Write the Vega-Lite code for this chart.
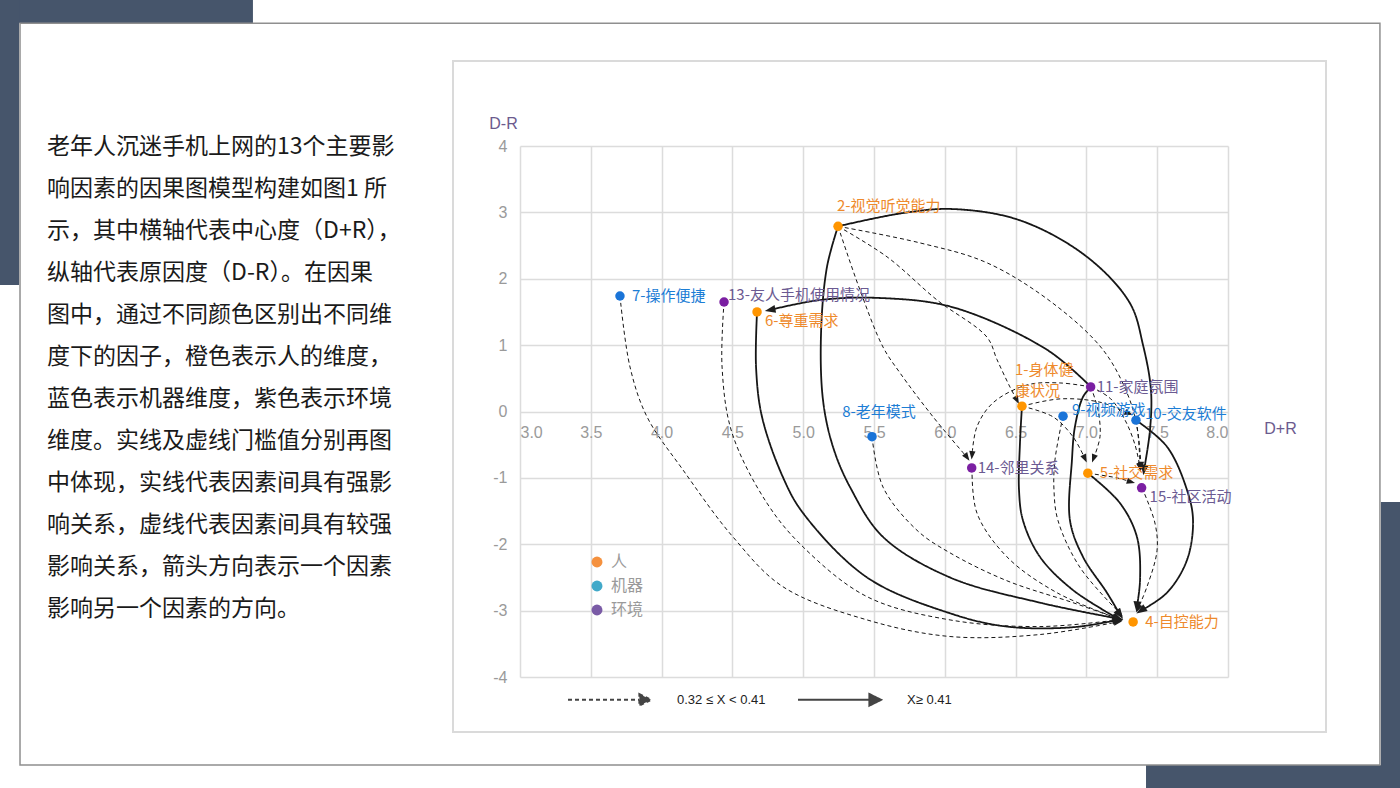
{
  "$schema": "https://vega.github.io/schema/vega-lite/v6.json",
  "width": 708,
  "height": 531,
  "autosize": {"type": "none"},
  "padding": {"left": 520, "top": 146, "right": 172, "bottom": 111},
  "background": "white",
  "config": {"view": {"stroke": null}},
  "resolve": {"scale": {"fill": "independent"}},
  "datasets": {
    "nodes": [
      {"id": "1", "label": "1-身体健\n康状况", "dim": "人", "x": 6.545, "y": 0.08},
      {"id": "2", "label": "2-视觉听觉能力", "dim": "人", "x": 5.246, "y": 2.79},
      {"id": "4", "label": "4-自控能力", "dim": "人", "x": 7.33, "y": -3.17},
      {"id": "5", "label": "5-社交需求", "dim": "人", "x": 7.01, "y": -0.93},
      {"id": "6", "label": "6-尊重需求", "dim": "人", "x": 4.674, "y": 1.5},
      {"id": "7", "label": "7-操作便捷", "dim": "机器", "x": 3.706, "y": 1.74},
      {"id": "8", "label": "8-老年模式", "dim": "机器", "x": 5.486, "y": -0.38},
      {"id": "9", "label": "9-视频游戏", "dim": "机器", "x": 6.835, "y": -0.07},
      {"id": "10", "label": "10-交友软件", "dim": "机器", "x": 7.35, "y": -0.13},
      {"id": "11", "label": "11-家庭氛围", "dim": "环境", "x": 7.03, "y": 0.37},
      {"id": "13", "label": "13-友人手机使用情况", "dim": "环境", "x": 4.441, "y": 1.65},
      {"id": "14", "label": "14-邻里关系", "dim": "环境", "x": 6.19, "y": -0.85},
      {"id": "15", "label": "15-社区活动", "dim": "环境", "x": 7.39, "y": -1.15}
    ],
    "edges": [
      {"edge": "11-6", "strength": "强", "seq": 0, "x": 7.032, "y": 0.37},
      {"edge": "11-6", "strength": "强", "seq": 1, "x": 6.722, "y": 0.93},
      {"edge": "11-6", "strength": "强", "seq": 2, "x": 6.058, "y": 1.57},
      {"edge": "11-6", "strength": "强", "seq": 3, "x": 5.542, "y": 1.71},
      {"edge": "11-6", "strength": "强", "seq": 4, "x": 5.119, "y": 1.68},
      {"edge": "11-6", "strength": "强", "seq": 5, "x": 4.766, "y": 1.53, "angle": 259},
      {"edge": "2-15s", "strength": "强", "seq": 0, "x": 5.246, "y": 2.79},
      {"edge": "2-15s", "strength": "强", "seq": 1, "x": 5.705, "y": 2.99},
      {"edge": "2-15s", "strength": "强", "seq": 2, "x": 6.058, "y": 3.05},
      {"edge": "2-15s", "strength": "强", "seq": 3, "x": 6.531, "y": 2.88},
      {"edge": "2-15s", "strength": "强", "seq": 4, "x": 7.004, "y": 2.33},
      {"edge": "2-15s", "strength": "强", "seq": 5, "x": 7.308, "y": 1.63},
      {"edge": "2-15s", "strength": "强", "seq": 6, "x": 7.4, "y": 1.0},
      {"edge": "2-15s", "strength": "强", "seq": 7, "x": 7.456, "y": 0.32},
      {"edge": "2-15s", "strength": "强", "seq": 8, "x": 7.449, "y": -0.28},
      {"edge": "2-15s", "strength": "强", "seq": 9, "x": 7.407, "y": -0.88, "angle": 188},
      {"edge": "2-4", "strength": "强", "seq": 0, "x": 5.246, "y": 2.79},
      {"edge": "2-4", "strength": "强", "seq": 1, "x": 5.168, "y": 2.18},
      {"edge": "2-4", "strength": "强", "seq": 2, "x": 5.126, "y": 1.18},
      {"edge": "2-4", "strength": "强", "seq": 3, "x": 5.14, "y": 0.17},
      {"edge": "2-4", "strength": "强", "seq": 4, "x": 5.21, "y": -0.53},
      {"edge": "2-4", "strength": "强", "seq": 5, "x": 5.331, "y": -1.14},
      {"edge": "2-4", "strength": "强", "seq": 6, "x": 5.564, "y": -1.89},
      {"edge": "2-4", "strength": "强", "seq": 7, "x": 6.037, "y": -2.5},
      {"edge": "2-4", "strength": "强", "seq": 8, "x": 6.672, "y": -2.88},
      {"edge": "2-4", "strength": "强", "seq": 9, "x": 7.223, "y": -3.12, "angle": 100},
      {"edge": "6-4", "strength": "强", "seq": 0, "x": 4.674, "y": 1.5},
      {"edge": "6-4", "strength": "强", "seq": 1, "x": 4.667, "y": 0.67},
      {"edge": "6-4", "strength": "强", "seq": 2, "x": 4.709, "y": -0.08},
      {"edge": "6-4", "strength": "强", "seq": 3, "x": 4.857, "y": -0.99},
      {"edge": "6-4", "strength": "强", "seq": 4, "x": 4.999, "y": -1.53},
      {"edge": "6-4", "strength": "强", "seq": 5, "x": 5.451, "y": -2.5},
      {"edge": "6-4", "strength": "强", "seq": 6, "x": 6.037, "y": -3.04},
      {"edge": "6-4", "strength": "强", "seq": 7, "x": 6.439, "y": -3.24},
      {"edge": "6-4", "strength": "强", "seq": 8, "x": 6.905, "y": -3.25},
      {"edge": "6-4", "strength": "强", "seq": 9, "x": 7.223, "y": -3.14, "angle": 82},
      {"edge": "1-4", "strength": "强", "seq": 0, "x": 6.545, "y": 0.08},
      {"edge": "1-4", "strength": "强", "seq": 1, "x": 6.531, "y": -0.47},
      {"edge": "1-4", "strength": "强", "seq": 2, "x": 6.524, "y": -1.18},
      {"edge": "1-4", "strength": "强", "seq": 3, "x": 6.552, "y": -1.64},
      {"edge": "1-4", "strength": "强", "seq": 4, "x": 6.672, "y": -2.19},
      {"edge": "1-4", "strength": "强", "seq": 5, "x": 6.905, "y": -2.69},
      {"edge": "1-4", "strength": "强", "seq": 6, "x": 7.223, "y": -3.12, "angle": 118},
      {"edge": "11-4", "strength": "强", "seq": 0, "x": 7.032, "y": 0.37},
      {"edge": "11-4", "strength": "强", "seq": 1, "x": 6.976, "y": 0.22},
      {"edge": "11-4", "strength": "强", "seq": 2, "x": 6.919, "y": -0.23},
      {"edge": "11-4", "strength": "强", "seq": 3, "x": 6.898, "y": -0.73},
      {"edge": "11-4", "strength": "强", "seq": 4, "x": 6.884, "y": -1.64},
      {"edge": "11-4", "strength": "强", "seq": 5, "x": 6.976, "y": -2.19},
      {"edge": "11-4", "strength": "强", "seq": 6, "x": 7.145, "y": -2.73},
      {"edge": "11-4", "strength": "强", "seq": 7, "x": 7.237, "y": -3.06, "angle": 145},
      {"edge": "5-4", "strength": "强", "seq": 0, "x": 7.011, "y": -0.93},
      {"edge": "5-4", "strength": "强", "seq": 1, "x": 7.237, "y": -1.38},
      {"edge": "5-4", "strength": "强", "seq": 2, "x": 7.357, "y": -1.89},
      {"edge": "5-4", "strength": "强", "seq": 3, "x": 7.379, "y": -2.53},
      {"edge": "5-4", "strength": "强", "seq": 4, "x": 7.357, "y": -2.94, "angle": 186},
      {"edge": "10-4", "strength": "强", "seq": 0, "x": 7.35, "y": -0.13},
      {"edge": "10-4", "strength": "强", "seq": 1, "x": 7.569, "y": -0.53},
      {"edge": "10-4", "strength": "强", "seq": 2, "x": 7.71, "y": -1.18},
      {"edge": "10-4", "strength": "强", "seq": 3, "x": 7.753, "y": -1.64},
      {"edge": "10-4", "strength": "强", "seq": 4, "x": 7.71, "y": -2.24},
      {"edge": "10-4", "strength": "强", "seq": 5, "x": 7.569, "y": -2.73},
      {"edge": "10-4", "strength": "强", "seq": 6, "x": 7.385, "y": -3.0, "angle": 237},
      {"edge": "7-4", "strength": "较强", "seq": 0, "x": 3.706, "y": 1.74},
      {"edge": "7-4", "strength": "较强", "seq": 1, "x": 3.777, "y": 0.67},
      {"edge": "7-4", "strength": "较强", "seq": 2, "x": 3.897, "y": -0.08},
      {"edge": "7-4", "strength": "较强", "seq": 3, "x": 4.151, "y": -0.88},
      {"edge": "7-4", "strength": "较强", "seq": 4, "x": 4.504, "y": -1.89},
      {"edge": "7-4", "strength": "较强", "seq": 5, "x": 4.857, "y": -2.64},
      {"edge": "7-4", "strength": "较强", "seq": 6, "x": 5.451, "y": -3.14},
      {"edge": "7-4", "strength": "较强", "seq": 7, "x": 6.037, "y": -3.39},
      {"edge": "7-4", "strength": "较强", "seq": 8, "x": 6.672, "y": -3.36},
      {"edge": "7-4", "strength": "较强", "seq": 9, "x": 7.223, "y": -3.17, "angle": 80},
      {"edge": "13-4", "strength": "较强", "seq": 0, "x": 4.441, "y": 1.65},
      {"edge": "13-4", "strength": "较强", "seq": 1, "x": 4.427, "y": 0.67},
      {"edge": "13-4", "strength": "较强", "seq": 2, "x": 4.497, "y": -0.32},
      {"edge": "13-4", "strength": "较强", "seq": 3, "x": 4.744, "y": -1.38},
      {"edge": "13-4", "strength": "较强", "seq": 4, "x": 4.999, "y": -2.04},
      {"edge": "13-4", "strength": "较强", "seq": 5, "x": 5.451, "y": -2.79},
      {"edge": "13-4", "strength": "较强", "seq": 6, "x": 6.037, "y": -3.14},
      {"edge": "13-4", "strength": "较强", "seq": 7, "x": 6.672, "y": -3.24},
      {"edge": "13-4", "strength": "较强", "seq": 8, "x": 7.223, "y": -3.14, "angle": 85},
      {"edge": "8-4", "strength": "较强", "seq": 0, "x": 5.486, "y": -0.38},
      {"edge": "8-4", "strength": "较强", "seq": 1, "x": 5.564, "y": -1.14},
      {"edge": "8-4", "strength": "较强", "seq": 2, "x": 5.804, "y": -1.79},
      {"edge": "8-4", "strength": "较强", "seq": 3, "x": 6.037, "y": -2.13},
      {"edge": "8-4", "strength": "较强", "seq": 4, "x": 6.439, "y": -2.55},
      {"edge": "8-4", "strength": "较强", "seq": 5, "x": 6.905, "y": -2.88},
      {"edge": "8-4", "strength": "较强", "seq": 6, "x": 7.223, "y": -3.12, "angle": 108},
      {"edge": "14-4", "strength": "较强", "seq": 0, "x": 6.192, "y": -0.85},
      {"edge": "14-4", "strength": "较强", "seq": 1, "x": 6.227, "y": -1.53},
      {"edge": "14-4", "strength": "较强", "seq": 2, "x": 6.439, "y": -2.19},
      {"edge": "14-4", "strength": "较强", "seq": 3, "x": 6.792, "y": -2.73},
      {"edge": "14-4", "strength": "较强", "seq": 4, "x": 7.223, "y": -3.12, "angle": 113},
      {"edge": "9-4", "strength": "较强", "seq": 0, "x": 6.835, "y": -0.07},
      {"edge": "9-4", "strength": "较强", "seq": 1, "x": 6.778, "y": -0.73},
      {"edge": "9-4", "strength": "较强", "seq": 2, "x": 6.771, "y": -1.18},
      {"edge": "9-4", "strength": "较强", "seq": 3, "x": 6.799, "y": -1.64},
      {"edge": "9-4", "strength": "较强", "seq": 4, "x": 6.955, "y": -2.35},
      {"edge": "9-4", "strength": "较强", "seq": 5, "x": 7.237, "y": -3.04, "angle": 139},
      {"edge": "15-4", "strength": "较强", "seq": 0, "x": 7.393, "y": -1.15},
      {"edge": "15-4", "strength": "较强", "seq": 1, "x": 7.484, "y": -1.68},
      {"edge": "15-4", "strength": "较强", "seq": 2, "x": 7.499, "y": -2.09},
      {"edge": "15-4", "strength": "较强", "seq": 3, "x": 7.428, "y": -2.64},
      {"edge": "15-4", "strength": "较强", "seq": 4, "x": 7.364, "y": -2.97, "angle": 202},
      {"edge": "2-15d", "strength": "较强", "seq": 0, "x": 5.246, "y": 2.79},
      {"edge": "2-15d", "strength": "较强", "seq": 1, "x": 5.825, "y": 2.54},
      {"edge": "2-15d", "strength": "较强", "seq": 2, "x": 6.298, "y": 2.24},
      {"edge": "2-15d", "strength": "较强", "seq": 3, "x": 6.764, "y": 1.63},
      {"edge": "2-15d", "strength": "较强", "seq": 4, "x": 7.117, "y": 0.93},
      {"edge": "2-15d", "strength": "较强", "seq": 5, "x": 7.287, "y": 0.28},
      {"edge": "2-15d", "strength": "较强", "seq": 6, "x": 7.357, "y": -0.23},
      {"edge": "2-15d", "strength": "较强", "seq": 7, "x": 7.379, "y": -0.84, "angle": 176},
      {"edge": "2-1", "strength": "较强", "seq": 0, "x": 5.246, "y": 2.79},
      {"edge": "2-1", "strength": "较强", "seq": 1, "x": 5.592, "y": 2.33},
      {"edge": "2-1", "strength": "较强", "seq": 2, "x": 5.945, "y": 1.68},
      {"edge": "2-1", "strength": "较强", "seq": 3, "x": 6.298, "y": 1.12},
      {"edge": "2-1", "strength": "较强", "seq": 4, "x": 6.369, "y": 0.78},
      {"edge": "2-1", "strength": "较强", "seq": 5, "x": 6.46, "y": 0.37},
      {"edge": "2-1", "strength": "较强", "seq": 6, "x": 6.51, "y": 0.17, "angle": 152},
      {"edge": "2-14", "strength": "较强", "seq": 0, "x": 5.246, "y": 2.79},
      {"edge": "2-14", "strength": "较强", "seq": 1, "x": 5.401, "y": 1.83},
      {"edge": "2-14", "strength": "较强", "seq": 2, "x": 5.564, "y": 0.97},
      {"edge": "2-14", "strength": "较强", "seq": 3, "x": 5.684, "y": 0.58},
      {"edge": "2-14", "strength": "较强", "seq": 4, "x": 5.917, "y": -0.08},
      {"edge": "2-14", "strength": "较强", "seq": 5, "x": 6.157, "y": -0.69, "angle": 145},
      {"edge": "11-14", "strength": "较强", "seq": 0, "x": 7.032, "y": 0.37},
      {"edge": "11-14", "strength": "较强", "seq": 1, "x": 6.814, "y": 0.43},
      {"edge": "11-14", "strength": "较强", "seq": 2, "x": 6.581, "y": 0.4},
      {"edge": "11-14", "strength": "较强", "seq": 3, "x": 6.34, "y": 0.13},
      {"edge": "11-14", "strength": "较强", "seq": 4, "x": 6.227, "y": -0.23},
      {"edge": "11-14", "strength": "较强", "seq": 5, "x": 6.192, "y": -0.66, "angle": 185},
      {"edge": "1-5", "strength": "较强", "seq": 0, "x": 6.545, "y": 0.08},
      {"edge": "1-5", "strength": "较强", "seq": 1, "x": 6.764, "y": -0.08},
      {"edge": "1-5", "strength": "较强", "seq": 2, "x": 6.905, "y": -0.38},
      {"edge": "1-5", "strength": "较强", "seq": 3, "x": 6.99, "y": -0.71, "angle": 155},
      {"edge": "11-5", "strength": "较强", "seq": 0, "x": 7.032, "y": 0.37},
      {"edge": "11-5", "strength": "较强", "seq": 1, "x": 7.082, "y": 0.02},
      {"edge": "11-5", "strength": "较强", "seq": 2, "x": 7.096, "y": -0.38},
      {"edge": "11-5", "strength": "较强", "seq": 3, "x": 7.05, "y": -0.71, "angle": 200},
      {"edge": "1-10", "strength": "较强", "seq": 0, "x": 6.545, "y": 0.08},
      {"edge": "1-10", "strength": "较强", "seq": 1, "x": 6.814, "y": 0.19},
      {"edge": "1-10", "strength": "较强", "seq": 2, "x": 7.096, "y": 0.14},
      {"edge": "1-10", "strength": "较强", "seq": 3, "x": 7.3, "y": -0.03, "angle": 112},
      {"edge": "11-15", "strength": "较强", "seq": 0, "x": 7.032, "y": 0.37},
      {"edge": "11-15", "strength": "较强", "seq": 1, "x": 7.167, "y": 0.2},
      {"edge": "11-15", "strength": "较强", "seq": 2, "x": 7.273, "y": -0.13},
      {"edge": "11-15", "strength": "较强", "seq": 3, "x": 7.343, "y": -0.5},
      {"edge": "11-15", "strength": "较强", "seq": 4, "x": 7.379, "y": -0.84, "angle": 170},
      {"edge": "10-15", "strength": "较强", "seq": 0, "x": 7.35, "y": -0.13},
      {"edge": "10-15", "strength": "较强", "seq": 1, "x": 7.371, "y": -0.43},
      {"edge": "10-15", "strength": "较强", "seq": 2, "x": 7.386, "y": -0.82, "angle": 178},
      {"edge": "5-15", "strength": "较强", "seq": 0, "x": 7.011, "y": -0.93},
      {"edge": "5-15", "strength": "较强", "seq": 1, "x": 7.216, "y": -1.0},
      {"edge": "5-15", "strength": "较强", "seq": 2, "x": 7.315, "y": -1.06, "angle": 106}
    ]
  },
  "layer": [
    {
      "data": {"name": "edges"},
      "mark": {"type": "line", "interpolate": "catmull-rom", "color": "#161616"},
      "encoding": {
        "x": {"field": "x", "type": "quantitative", "scale": {"domain": [3, 8], "nice": false, "zero": false},
          "axis": {"orient": "bottom", "offset": -265.5, "values": [3, 3.5, 4, 4.5, 5, 5.5, 6, 6.5, 7, 7.5, 8], "format": ".1f",
            "domain": false, "ticks": false, "grid": true, "gridColor": "#dcdcdc", "gridWidth": 1.5,
            "labelFont": "Liberation Sans", "labelFontSize": 16, "labelColor": "#9a9a9a", "labelPadding": 13,
            "title": "D+R", "titleFont": "Liberation Sans", "titleFontSize": 16, "titleFontWeight": "normal", "titleColor": "#6b5a8e",
            "titleX": 760, "titleY": 17, "titleAlign": "center", "titleBaseline": "middle", "titleAngle": 0}},
        "y": {"field": "y", "type": "quantitative", "scale": {"domain": [-4, 4], "nice": false, "zero": false},
          "axis": {"orient": "left", "values": [-4, -3, -2, -1, 0, 1, 2, 3, 4], "labelExpr": "'' + datum.value",
            "domain": false, "ticks": false, "grid": true, "gridColor": "#dcdcdc", "gridWidth": 1.5,
            "labelFont": "Liberation Sans", "labelFontSize": 16, "labelColor": "#9a9a9a", "labelPadding": 13,
            "title": "D-R", "titleFont": "Liberation Sans", "titleFontSize": 16, "titleFontWeight": "normal", "titleColor": "#6b5a8e",
            "titleX": -17, "titleY": -23, "titleAlign": "center", "titleBaseline": "middle", "titleAngle": 0}},
        "detail": {"field": "edge"},
        "order": {"field": "seq", "type": "quantitative"},
        "strokeDash": {"field": "strength", "type": "ordinal",
          "scale": {"domain": ["较强", "强"], "range": [[4, 3], [1, 0]]},
          "legend": {"orient": "none", "legendX": 47, "legendY": 511, "direction": "horizontal", "title": null,
            "symbolType": "M-1,0L0.72,0M0.72,-0.14L1,0L0.72,0.14Z", "symbolSize": 6889,
            "symbolStrokeColor": "#444", "symbolFillColor": "#444", "symbolStrokeWidth": 2,
            "labelFont": "Liberation Sans", "labelFontSize": 13, "labelColor": "#222", "labelOffset": 25, "columnPadding": 28,
            "labelExpr": "datum.value === '强' ? 'X≥ 0.41' : '0.32 ≤ X < 0.41'"}},
        "strokeWidth": {"condition": {"test": "datum.strength === '强'", "value": 1.8}, "value": 1}
      }
    },
    {
      "data": {"name": "edges"},
      "transform": [{"filter": "isValid(datum.angle) && datum.strength === '强'"}],
      "mark": {"type": "point", "shape": "M0,-1L0.75,1L-0.75,1Z", "filled": true, "color": "#1e1e1e", "opacity": 1, "size": 115},
      "encoding": {
        "x": {"field": "x", "type": "quantitative", "scale": {"domain": [3, 8], "nice": false, "zero": false}},
        "y": {"field": "y", "type": "quantitative", "scale": {"domain": [-4, 4], "nice": false, "zero": false}},
        "angle": {"field": "angle", "type": "quantitative", "scale": null}
      }
    },
    {
      "data": {"name": "edges"},
      "transform": [{"filter": "isValid(datum.angle) && datum.strength === '较强'"}],
      "mark": {"type": "point", "shape": "M0,-1L0.75,1L-0.75,1Z", "filled": true, "color": "#1e1e1e", "opacity": 1, "size": 70},
      "encoding": {
        "x": {"field": "x", "type": "quantitative", "scale": {"domain": [3, 8], "nice": false, "zero": false}},
        "y": {"field": "y", "type": "quantitative", "scale": {"domain": [-4, 4], "nice": false, "zero": false}},
        "angle": {"field": "angle", "type": "quantitative", "scale": null}
      }
    },
    {
      "data": {"name": "nodes"},
      "mark": {"type": "point", "filled": true, "size": 30, "opacity": 1},
      "encoding": {
        "x": {"field": "x", "type": "quantitative", "scale": {"domain": [3, 8], "nice": false, "zero": false}},
        "y": {"field": "y", "type": "quantitative", "scale": {"domain": [-4, 4], "nice": false, "zero": false}},
        "color": {"field": "dim", "type": "nominal",
          "scale": {"domain": ["人", "机器", "环境"], "range": ["#f5913e", "#41a9c9", "#7a5ba6"]},
          "legend": {"orient": "none", "legendX": 69, "legendY": 408, "title": null, "symbolType": "circle", "symbolSize": 120,
            "labelFont": "Noto Sans CJK SC", "labelFontSize": 16, "labelColor": "#9a9a9a", "rowPadding": 8, "labelOffset": 6}}
      }
    },
    {
      "data": {"name": "nodes"},
      "mark": {"type": "point", "filled": true, "size": 90, "opacity": 1},
      "encoding": {
        "x": {"field": "x", "type": "quantitative", "scale": {"domain": [3, 8], "nice": false, "zero": false}},
        "y": {"field": "y", "type": "quantitative", "scale": {"domain": [-4, 4], "nice": false, "zero": false}},
        "fill": {"field": "dim", "type": "nominal",
          "scale": {"domain": ["人", "机器", "环境"], "range": ["#ff9500", "#1a74d8", "#7b1fa2"]}, "legend": null}
      }
    },
    {
      "data": {"name": "nodes"},
      "transform": [{"filter": {"field": "id", "oneOf": ["11", "14"]}}],
      "mark": {"type": "text", "align": "left", "baseline": "middle", "dx": 6, "font": "Noto Sans CJK SC", "fontSize": 15},
      "encoding": {
        "x": {"field": "x", "type": "quantitative", "scale": {"domain": [3, 8], "nice": false, "zero": false}},
        "y": {"field": "y", "type": "quantitative", "scale": {"domain": [-4, 4], "nice": false, "zero": false}},
        "text": {"field": "label"},
        "fill": {"field": "dim", "type": "nominal", "scale": {"domain": ["人", "机器", "环境"], "range": ["#ee8a2c", "#1c7dd5", "#6b5a92"]}, "legend": null}
      }
    },
    {
      "data": {"name": "nodes"},
      "transform": [{"filter": {"field": "id", "oneOf": ["7", "5", "4"]}}],
      "mark": {"type": "text", "align": "left", "baseline": "middle", "dx": 12, "font": "Noto Sans CJK SC", "fontSize": 15},
      "encoding": {
        "x": {"field": "x", "type": "quantitative", "scale": {"domain": [3, 8], "nice": false, "zero": false}},
        "y": {"field": "y", "type": "quantitative", "scale": {"domain": [-4, 4], "nice": false, "zero": false}},
        "text": {"field": "label"},
        "fill": {"field": "dim", "type": "nominal", "scale": {"domain": ["人", "机器", "环境"], "range": ["#ee8a2c", "#1c7dd5", "#6b5a92"]}, "legend": null}
      }
    },
    {
      "data": {"name": "nodes"},
      "transform": [{"filter": {"field": "id", "oneOf": ["9", "10"]}}],
      "mark": {"type": "text", "align": "left", "baseline": "middle", "dx": 9, "dy": -6, "font": "Noto Sans CJK SC", "fontSize": 15},
      "encoding": {
        "x": {"field": "x", "type": "quantitative", "scale": {"domain": [3, 8], "nice": false, "zero": false}},
        "y": {"field": "y", "type": "quantitative", "scale": {"domain": [-4, 4], "nice": false, "zero": false}},
        "text": {"field": "label"},
        "fill": {"field": "dim", "type": "nominal", "scale": {"domain": ["人", "机器", "环境"], "range": ["#ee8a2c", "#1c7dd5", "#6b5a92"]}, "legend": null}
      }
    },
    {
      "data": {"name": "nodes"},
      "transform": [{"filter": {"field": "id", "oneOf": ["13"]}}],
      "mark": {"type": "text", "align": "left", "baseline": "middle", "dx": 4, "dy": -7, "font": "Noto Sans CJK SC", "fontSize": 15},
      "encoding": {
        "x": {"field": "x", "type": "quantitative", "scale": {"domain": [3, 8], "nice": false, "zero": false}},
        "y": {"field": "y", "type": "quantitative", "scale": {"domain": [-4, 4], "nice": false, "zero": false}},
        "text": {"field": "label"},
        "fill": {"field": "dim", "type": "nominal", "scale": {"domain": ["人", "机器", "环境"], "range": ["#ee8a2c", "#1c7dd5", "#6b5a92"]}, "legend": null}
      }
    },
    {
      "data": {"name": "nodes"},
      "transform": [{"filter": {"field": "id", "oneOf": ["6", "15"]}}],
      "mark": {"type": "text", "align": "left", "baseline": "middle", "dx": 8, "dy": 9, "font": "Noto Sans CJK SC", "fontSize": 15},
      "encoding": {
        "x": {"field": "x", "type": "quantitative", "scale": {"domain": [3, 8], "nice": false, "zero": false}},
        "y": {"field": "y", "type": "quantitative", "scale": {"domain": [-4, 4], "nice": false, "zero": false}},
        "text": {"field": "label"},
        "fill": {"field": "dim", "type": "nominal", "scale": {"domain": ["人", "机器", "环境"], "range": ["#ee8a2c", "#1c7dd5", "#6b5a92"]}, "legend": null}
      }
    },
    {
      "data": {"name": "nodes"},
      "transform": [{"filter": {"field": "id", "oneOf": ["2"]}}],
      "mark": {"type": "text", "align": "left", "baseline": "middle", "dx": -1, "dy": -20, "font": "Noto Sans CJK SC", "fontSize": 15},
      "encoding": {
        "x": {"field": "x", "type": "quantitative", "scale": {"domain": [3, 8], "nice": false, "zero": false}},
        "y": {"field": "y", "type": "quantitative", "scale": {"domain": [-4, 4], "nice": false, "zero": false}},
        "text": {"field": "label"},
        "fill": {"field": "dim", "type": "nominal", "scale": {"domain": ["人", "机器", "环境"], "range": ["#ee8a2c", "#1c7dd5", "#6b5a92"]}, "legend": null}
      }
    },
    {
      "data": {"name": "nodes"},
      "transform": [{"filter": {"field": "id", "oneOf": ["8"]}}],
      "mark": {"type": "text", "align": "center", "baseline": "middle", "dx": 7, "dy": -25, "font": "Noto Sans CJK SC", "fontSize": 15},
      "encoding": {
        "x": {"field": "x", "type": "quantitative", "scale": {"domain": [3, 8], "nice": false, "zero": false}},
        "y": {"field": "y", "type": "quantitative", "scale": {"domain": [-4, 4], "nice": false, "zero": false}},
        "text": {"field": "label"},
        "fill": {"field": "dim", "type": "nominal", "scale": {"domain": ["人", "机器", "环境"], "range": ["#ee8a2c", "#1c7dd5", "#6b5a92"]}, "legend": null}
      }
    },
    {
      "data": {"name": "nodes"},
      "transform": [{"filter": {"field": "id", "oneOf": ["1"]}}],
      "mark": {"type": "text", "align": "left", "baseline": "middle", "dx": -7, "dy": -36, "lineHeight": 21, "lineBreak": "\n", "font": "Noto Sans CJK SC", "fontSize": 15},
      "encoding": {
        "x": {"field": "x", "type": "quantitative", "scale": {"domain": [3, 8], "nice": false, "zero": false}},
        "y": {"field": "y", "type": "quantitative", "scale": {"domain": [-4, 4], "nice": false, "zero": false}},
        "text": {"field": "label"},
        "fill": {"field": "dim", "type": "nominal", "scale": {"domain": ["人", "机器", "环境"], "range": ["#ee8a2c", "#1c7dd5", "#6b5a92"]}, "legend": null}
      }
    },
    {
      "data": {"values": [{}]},
      "mark": {"type": "rect", "fill": "#46556b"},
      "encoding": {
        "x": {"datum": -0.8, "type": "quantitative", "scale": {"domain": [3, 8], "nice": false, "zero": false}},
        "x2": {"datum": 1.114},
        "y": {"datum": 6.4, "type": "quantitative", "scale": {"domain": [-4, 4], "nice": false, "zero": false}},
        "y2": {"datum": 5.851}
      }
    },
    {
      "data": {"values": [{}]},
      "mark": {"type": "rect", "fill": "#46556b"},
      "encoding": {
        "x": {"datum": -0.8, "type": "quantitative", "scale": {"domain": [3, 8], "nice": false, "zero": false}},
        "x2": {"datum": -0.538},
        "y": {"datum": 6.4, "type": "quantitative", "scale": {"domain": [-4, 4], "nice": false, "zero": false}},
        "y2": {"datum": 1.905}
      }
    },
    {
      "data": {"values": [{}]},
      "mark": {"type": "rect", "fill": "#46556b"},
      "encoding": {
        "x": {"datum": 9.08, "type": "quantitative", "scale": {"domain": [3, 8], "nice": false, "zero": false}},
        "x2": {"datum": 9.4},
        "y": {"datum": -1.363, "type": "quantitative", "scale": {"domain": [-4, 4], "nice": false, "zero": false}},
        "y2": {"datum": -5.9}
      }
    },
    {
      "data": {"values": [{}]},
      "mark": {"type": "rect", "fill": "#46556b"},
      "encoding": {
        "x": {"datum": 7.421, "type": "quantitative", "scale": {"domain": [3, 8], "nice": false, "zero": false}},
        "x2": {"datum": 9.4},
        "y": {"datum": -5.324, "type": "quantitative", "scale": {"domain": [-4, 4], "nice": false, "zero": false}},
        "y2": {"datum": -5.9}
      }
    },
    {
      "data": {"values": [{}]},
      "mark": {"type": "rect", "fillOpacity": 0, "stroke": "#8f8f8f", "strokeWidth": 1.5},
      "encoding": {
        "x": {"datum": -0.531, "type": "quantitative", "scale": {"domain": [3, 8], "nice": false, "zero": false}},
        "x2": {"datum": 9.073},
        "y": {"datum": 5.851, "type": "quantitative", "scale": {"domain": [-4, 4], "nice": false, "zero": false}},
        "y2": {"datum": -5.324}
      }
    },
    {
      "data": {"values": [{}]},
      "mark": {"type": "rect", "fillOpacity": 0, "stroke": "#dadada", "strokeWidth": 2},
      "encoding": {
        "x": {"datum": 2.527, "type": "quantitative", "scale": {"domain": [3, 8], "nice": false, "zero": false}},
        "x2": {"datum": 8.692},
        "y": {"datum": 5.279, "type": "quantitative", "scale": {"domain": [-4, 4], "nice": false, "zero": false}},
        "y2": {"datum": -4.827}
      }
    },
    {
      "data": {"values": [{}]},
      "mark": {"type": "text", "align": "left", "baseline": "middle", "lineHeight": 42, "lineBreak": "\n",
        "font": "Noto Sans CJK SC", "fontSize": 23, "color": "#1a1a1a",
        "text": "老年人沉迷手机上网的13个主要影\n响因素的因果图模型构建如图1 所\n示，其中横轴代表中心度（D+R），\n纵轴代表原因度（D-R）。在因果\n图中，通过不同颜色区别出不同维\n度下的因子，橙色表示人的维度，\n蓝色表示机器维度，紫色表示环境\n维度。实线及虚线门槛值分别再图\n中体现，实线代表因素间具有强影\n响关系，虚线代表因素间具有较强\n影响关系，箭头方向表示一个因素\n影响另一个因素的方向。"},
      "encoding": {
        "x": {"datum": -0.34, "type": "quantitative", "scale": {"domain": [3, 8], "nice": false, "zero": false}},
        "y": {"datum": 3.983, "type": "quantitative", "scale": {"domain": [-4, 4], "nice": false, "zero": false}}
      }
    }
  ]
}
